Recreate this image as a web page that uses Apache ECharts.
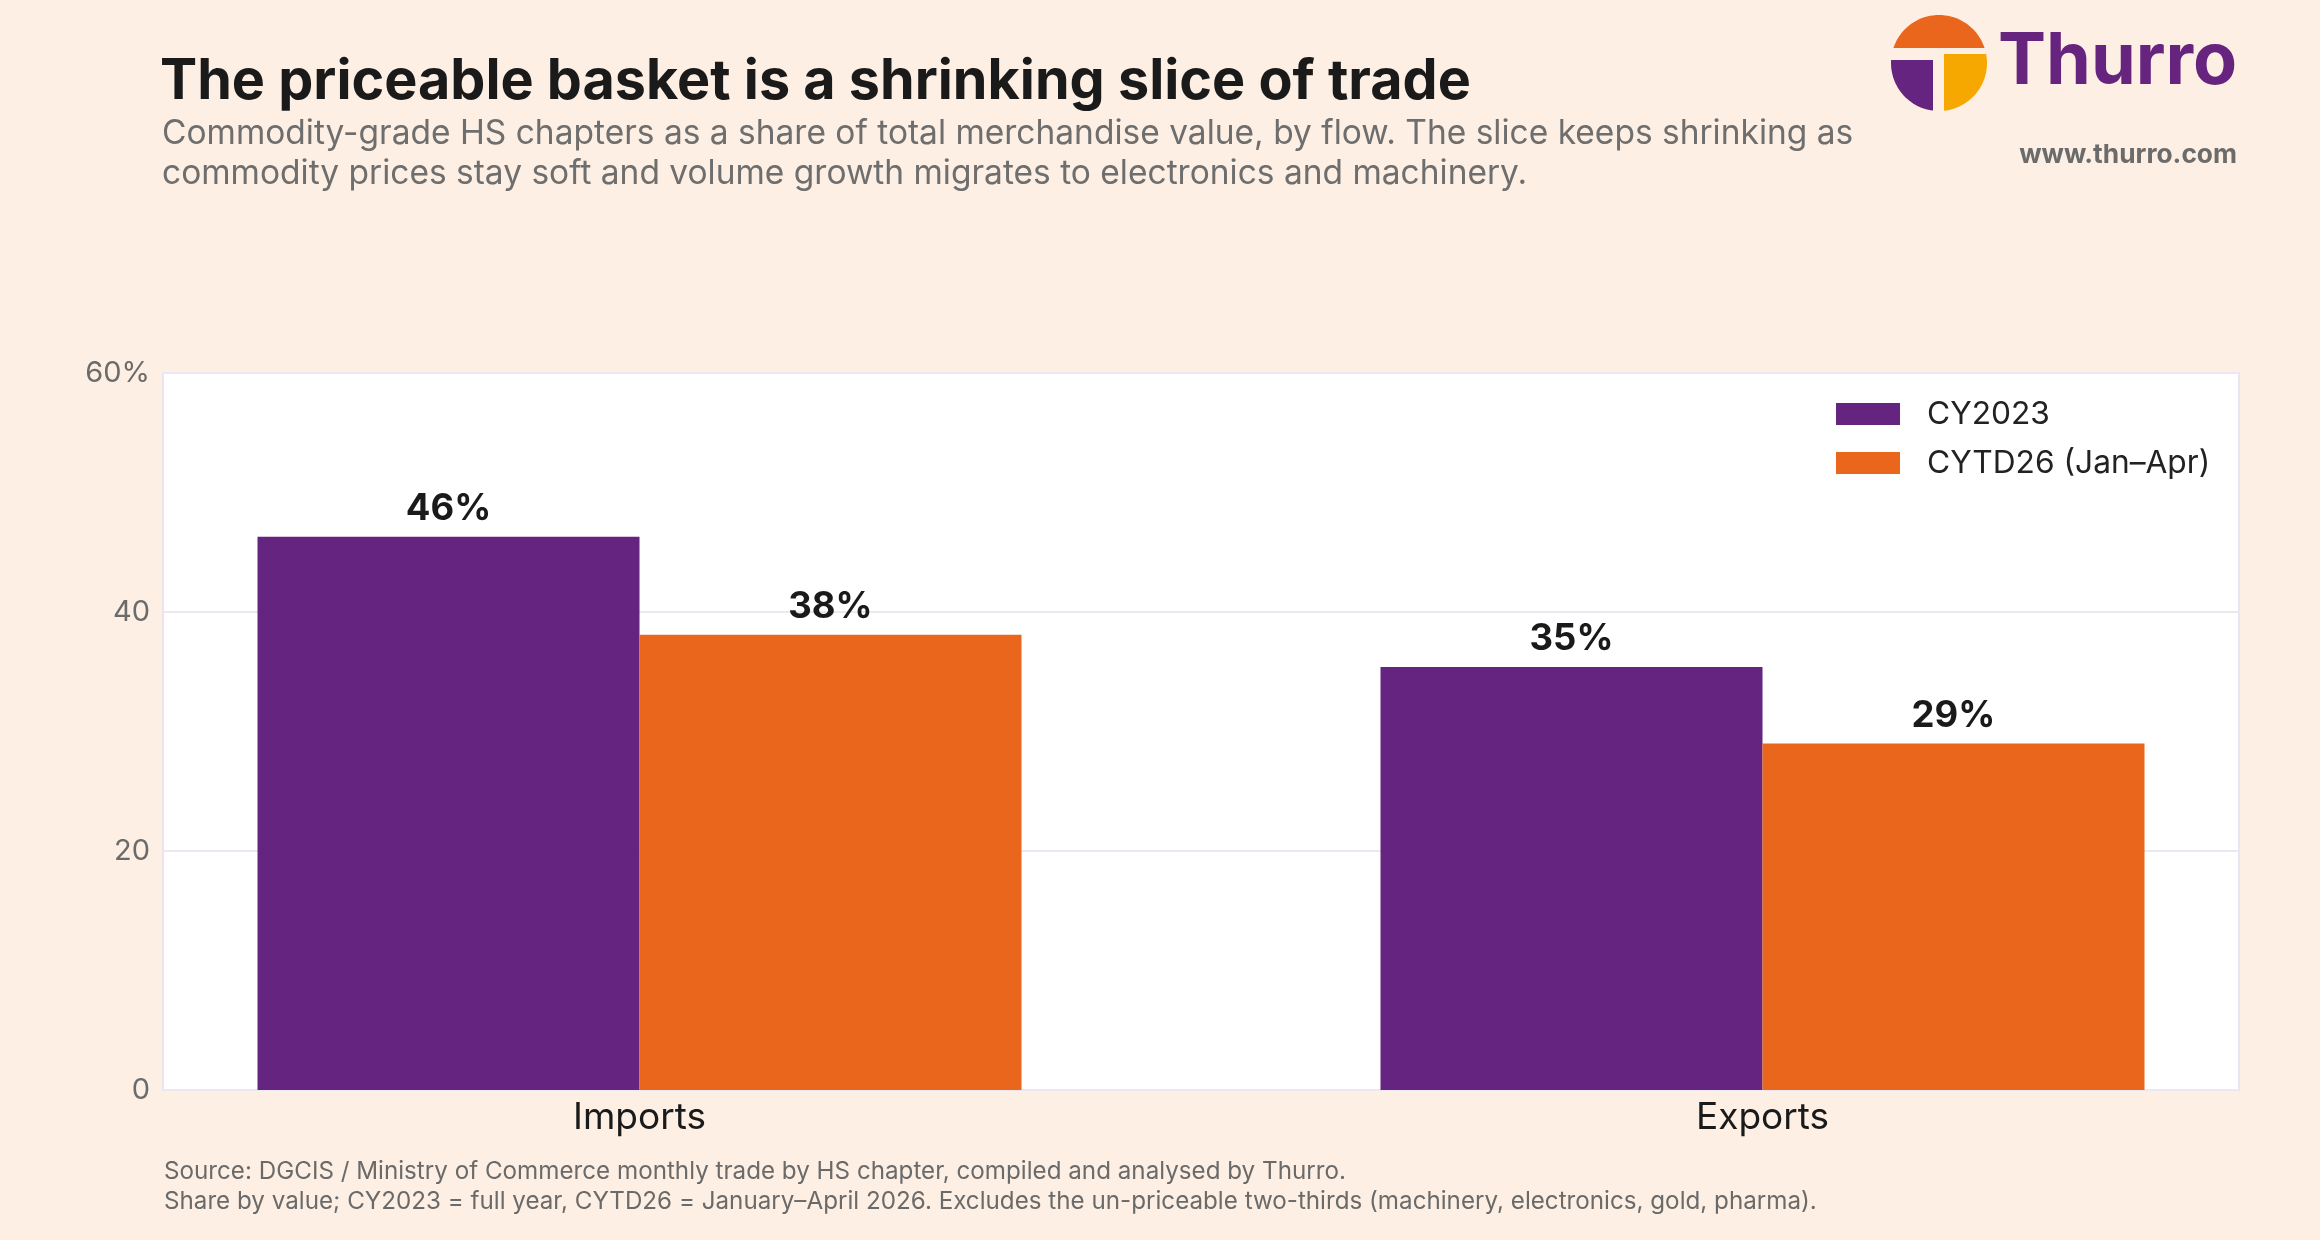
<!DOCTYPE html>
<html>
<head>
<meta charset="utf-8">
<script src="https://cdn.jsdelivr.net/npm/echarts@6/dist/echarts.min.js"></script>
<style>
  html, body { margin: 0; padding: 0; background: #fdefe3; overflow: hidden; }
  /* a bit wider than the window so the bar grid can run past the right edge */
  #chart { width: 2330px; height: 1240px; }
</style>
</head>
<body>
<div id="chart"></div>
<script>
const flows = ['Imports', 'Exports'];
const seriesNames = ['CY2023', 'CYTD26 (Jan–Apr)'];
const cy2023 = [46.3, 35.4];
const cytd26 = [38.1, 29.0];
const yMax = 60;
const yStep = 20;

const PURPLE = '#652480';
const ORANGE = '#eb661d';
const FONT = 'Inter';

// logo pieces: circle split into a top cap and two lower quarters
function arcPoints(cx, cy, r, a0, a1, n) {
    const pts = [];
    for (let i = 0; i <= n; i++) {
        const a = (a0 + (a1 - a0) * i / n) * Math.PI / 180;
        pts.push([cx + r * Math.cos(a), cy - r * Math.sin(a)]);
    }
    return pts;
}
const LX = 1939, LY = 63, LR = 48;
const capPts = arcPoints(LX, LY, LR, 18.2, 161.8, 40);
const leftPts = [[LX - 6, LY - 3]].concat(arcPoints(LX, LY, LR, 176.4, 262.8, 30));
const rightPts = [[LX + 5, LY - 9]].concat(arcPoints(LX, LY, LR, 10.8, -84, 30));

const chart = echarts.init(document.getElementById('chart'));

chart.setOption({
    backgroundColor: '#fdefe3',
    animation: false,
    textStyle: { fontFamily: FONT },
    title: [
        {
            text: 'The priceable basket is a shrinking slice of trade',
            left: 155, top: 47,
            textStyle: { fontFamily: FONT, fontSize: 55.7, fontWeight: 700, color: '#1a1a1a', lineHeight: 60 }
        },
        {
            text: 'Commodity-grade HS chapters as a share of total merchandise value, by flow. The slice keeps shrinking as\ncommodity prices stay soft and volume growth migrates to electronics and machinery.',
            left: 157, top: 109,
            textStyle: { fontFamily: FONT, fontSize: 33.5, fontWeight: 400, color: '#6e6e6e', lineHeight: 40 }
        },
        {
            text: 'Source: DGCIS / Ministry of Commerce monthly trade by HS chapter, compiled and analysed by Thurro.\nShare by value; CY2023 = full year, CYTD26 = January–April 2026. Excludes the un-priceable two-thirds (machinery, electronics, gold, pharma).',
            left: 159, top: 1152,
            textStyle: { fontFamily: FONT, fontSize: 24.2, fontWeight: 400, color: '#6a6a6a', lineHeight: 30 }
        }
    ],
    legend: {
        data: seriesNames,
        orient: 'vertical',
        left: 1831, top: 392,
        icon: 'rect',
        itemWidth: 64, itemHeight: 22, itemGap: 15,
        textStyle: { fontFamily: FONT, fontSize: 31.7, color: '#222', padding: [0, 0, 0, 22], lineHeight: 34 }
    },
    grid: [
        { left: 163, width: 2076, top: 373, bottom: 150, show: true, backgroundColor: '#ffffff', borderColor: '#e9e4ef', borderWidth: 2 },
        { left: 78, width: 2246, top: 373, bottom: 150 }
    ],
    xAxis: [
        { gridIndex: 0, type: 'category', data: flows, show: false },
        {
            gridIndex: 1, type: 'category', data: flows,
            axisLine: { show: false }, axisTick: { show: false },
            axisLabel: { fontFamily: FONT, fontSize: 37, color: '#1a1a1a', margin: 9 }
        }
    ],
    yAxis: [
        {
            gridIndex: 0, type: 'value', min: 0, max: yMax, interval: yStep,
            axisLine: { show: false }, axisTick: { show: false },
            splitLine: { lineStyle: { color: '#ece8f1', width: 2 } },
            axisLabel: {
                fontFamily: FONT, fontSize: 29, color: '#6b6b6b', margin: 13,
                formatter: v => v === yMax ? v + '%' : String(v)
            }
        },
        { gridIndex: 1, type: 'value', min: 0, max: yMax, interval: yStep, show: false, splitLine: { show: false } }
    ],
    series: [
        {
            name: seriesNames[0], type: 'bar', xAxisIndex: 1, yAxisIndex: 1,
            data: cy2023, barWidth: 382, barGap: '0%',
            itemStyle: { color: PURPLE },
            label: {
                show: true, position: 'top', distance: 9,
                fontFamily: FONT, fontSize: 36.5, fontWeight: 700, color: '#1a1a1a',
                formatter: p => Math.round(p.value) + '%'
            }
        },
        {
            name: seriesNames[1], type: 'bar', xAxisIndex: 1, yAxisIndex: 1,
            data: cytd26, barWidth: 382, barGap: '0%',
            itemStyle: { color: ORANGE },
            label: {
                show: true, position: 'top', distance: 9,
                fontFamily: FONT, fontSize: 36.5, fontWeight: 700, color: '#1a1a1a',
                formatter: p => Math.round(p.value) + '%'
            }
        }
    ],
    graphic: [
        { type: 'polygon', shape: { points: capPts }, style: { fill: ORANGE } },
        { type: 'polygon', shape: { points: leftPts }, style: { fill: PURPLE } },
        { type: 'polygon', shape: { points: rightPts }, style: { fill: '#f6a800' } },
        {
            type: 'text', left: 1998, top: 26,
            style: { text: 'Thurro', font: '700 72px Inter', fill: '#66247f' }
        },
        {
            type: 'text', right: 93, top: 142,
            style: { text: 'www.thurro.com', font: '700 26.3px Inter', fill: '#6b6b6b' }
        }
    ]
});
</script>
</body>
</html>
